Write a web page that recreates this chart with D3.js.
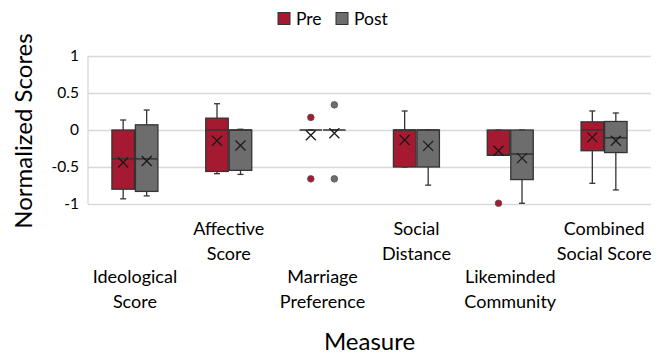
<!DOCTYPE html>
<html><head><meta charset="utf-8">
<script src="https://cdn.jsdelivr.net/npm/d3@7"></script>
<style>
html,body{margin:0;padding:0;background:#fff;}
svg{display:block;font-family:Lato,"Liberation Sans",sans-serif;}
</style></head>
<body>
<svg id="chart" width="664" height="354"></svg>
<script>
const categories = ["Ideological Score","Affective Score","Marriage Preference","Social Distance","Likeminded Community","Combined Social Score"];
const seriesNames = ["Pre","Post"];
const yTickValues = [-1,-0.5,0,0.5,1];
const yTickLabels = ["-1","-0.5","0","0.5","1"];

const preLow    = [-0.93,-0.59, 0,    -0.5, -0.34,-0.72];
const preQ1     = [-0.80,-0.56, 0,    -0.5, -0.34,-0.28];
const preMedian = [-0.39, 0.00, 0,     0.0, -0.34, 0.00];
const preQ3     = [ 0.00, 0.16, 0,     0.0,  0.00, 0.11];
const preHigh   = [ 0.135,0.355,0,     0.257,0.00, 0.257];
const preMean   = [-0.44,-0.145,-0.07,-0.135,-0.28,-0.10];
const preOutliers = [[],[],[0.17,-0.66],[],[-0.99],[]];

const postLow    = [-0.89,-0.60, 0,    -0.745,-0.99,-0.81];
const postQ1     = [-0.83,-0.545,0,    -0.5,  -0.67,-0.305];
const postMedian = [-0.39, 0.00, 0,     0.0,  -0.325,-0.105];
const postQ3     = [ 0.07, 0.00, 0,     0.0,   0.00, 0.115];
const postHigh   = [ 0.27, 0.01, 0,     0.0,   0.00, 0.23];
const postMean   = [-0.42,-0.21,-0.045,-0.215,-0.38,-0.145];
const postOutliers = [[],[],[0.34,-0.66],[],[],[]];

const colors = {Pre:"#A51A30", Post:"#6D6D6D"};
const strokeDark = "#333333";

(function(){
const rows = [];
categories.forEach((c,i)=>{
  rows.push({cat:c, s:"Pre", low:preLow[i], q1:preQ1[i], med:preMedian[i], q3:preQ3[i], high:preHigh[i], mean:preMean[i], out:preOutliers[i]});
  rows.push({cat:c, s:"Post", low:postLow[i], q1:postQ1[i], med:postMedian[i], q3:postQ3[i], high:postHigh[i], mean:postMean[i], out:postOutliers[i]});
});

const svg = d3.select("#chart");
const pl = 88, pr = 651, pt = 56, pb = 204;

const x0 = d3.scaleBand().domain(categories).range([pl,pr]).paddingInner(0).paddingOuter(0);
const bw = x0.bandwidth();
const x1 = d3.scaleBand().domain(seriesNames).range([bw/2-23, bw/2+23]).paddingInner(2/46).paddingOuter(0);
const y = d3.scaleLinear().domain([-1,1]).range([pb,pt]);

const grid = svg.append("g").attr("transform",`translate(${pl},0)`)
  .call(d3.axisLeft(y).tickValues(yTickValues).tickSize(-(pr-pl)).tickFormat(""));
grid.selectAll(".tick line").attr("stroke","#d9d9d9").attr("stroke-width",1.3);
grid.select(".domain").remove();
svg.append("line").attr("x1",pl).attr("x2",pl).attr("y1",pt).attr("y2",pb)
  .attr("stroke","#d9d9d9").attr("stroke-width",1.3);

const yAxis = svg.append("g").attr("transform",`translate(${pl},0)`)
  .call(d3.axisLeft(y).tickValues(yTickValues).tickSize(0).tickPadding(9)
    .tickFormat((d,i)=>yTickLabels[i]));
yAxis.select(".domain").remove();
yAxis.selectAll("text").attr("font-size",15.5).attr("fill","#000").attr("font-family","Lato,'Liberation Sans',sans-serif");

const g = svg.append("g");
const groups = g.selectAll("g.box").data(rows).join("g")
  .attr("transform",d=>`translate(${x0(d.cat)+x1(d.s)},0)`);
const w = x1.bandwidth();
const cx = w/2;

groups.append("line").attr("x1",cx).attr("x2",cx).attr("y1",d=>y(d.high)).attr("y2",d=>y(d.q3))
  .attr("stroke",strokeDark).attr("stroke-width",1.3);
groups.append("line").attr("x1",cx).attr("x2",cx).attr("y1",d=>y(d.q1)).attr("y2",d=>y(d.low))
  .attr("stroke",strokeDark).attr("stroke-width",1.3);
groups.append("line").attr("x1",cx-3).attr("x2",cx+3).attr("y1",d=>y(d.high)).attr("y2",d=>y(d.high))
  .attr("stroke",strokeDark).attr("stroke-width",1.3);
groups.append("line").attr("x1",cx-3).attr("x2",cx+3).attr("y1",d=>y(d.low)).attr("y2",d=>y(d.low))
  .attr("stroke",strokeDark).attr("stroke-width",1.3);
groups.append("rect").attr("x",0).attr("width",w)
  .attr("y",d=>y(d.q3)).attr("height",d=>y(d.q1)-y(d.q3))
  .attr("fill",d=>colors[d.s]).attr("stroke",strokeDark).attr("stroke-width",1.3);
groups.append("line").attr("x1",0).attr("x2",w).attr("y1",d=>y(d.med)).attr("y2",d=>y(d.med))
  .attr("stroke",strokeDark).attr("stroke-width",1.5);
const m = 5;
groups.append("path").attr("d",d=>{const yy=y(d.mean);return `M${cx-m},${yy-m}L${cx+m},${yy+m}M${cx-m},${yy+m}L${cx+m},${yy-m}`;})
  .attr("stroke","#1a1a1a").attr("stroke-width",1.3).attr("fill","none");
groups.each(function(d){
  d3.select(this).selectAll("circle").data(d.out).join("circle")
    .attr("cx",cx).attr("cy",v=>y(v)).attr("r",3.3)
    .attr("fill",colors[d.s]).attr("stroke","#555").attr("stroke-width",0.8);
});

const xl = svg.append("g");
categories.forEach((c,i)=>{
  const idx = c.indexOf(" ");
  const lines = [c.slice(0,idx), c.slice(idx+1)];
  const base = (i%2===0) ? 283 : 235;
  const t = xl.append("text").attr("x",x0(c)+bw/2).attr("text-anchor","middle")
    .attr("font-size",18).attr("fill","#000");
  lines.forEach((ln,j)=>{
    t.append("tspan").attr("x",x0(c)+bw/2).attr("y",base+j*24.5).text(ln);
  });
});

svg.append("text").attr("x",(pl+pr)/2).attr("y",350).attr("text-anchor","middle")
  .attr("font-size",24).attr("fill","#000").text("Measure");
svg.append("text").attr("transform",`translate(32,${131}) rotate(-90)`).attr("text-anchor","middle")
  .attr("font-size",24).attr("fill","#000").text("Normalized Scores");

const legend = svg.append("g");
const legendItems = [{s:"Pre",x:278},{s:"Post",x:336}];
legendItems.forEach(it=>{
  legend.append("rect").attr("x",it.x).attr("y",12.5).attr("width",12).attr("height",12)
    .attr("fill",colors[it.s]).attr("stroke",strokeDark).attr("stroke-width",1);
  legend.append("text").attr("x",it.x+18).attr("y",24.5).attr("font-size",17.5).attr("fill","#000").text(it.s);
});
})();
</script>
</body></html>
